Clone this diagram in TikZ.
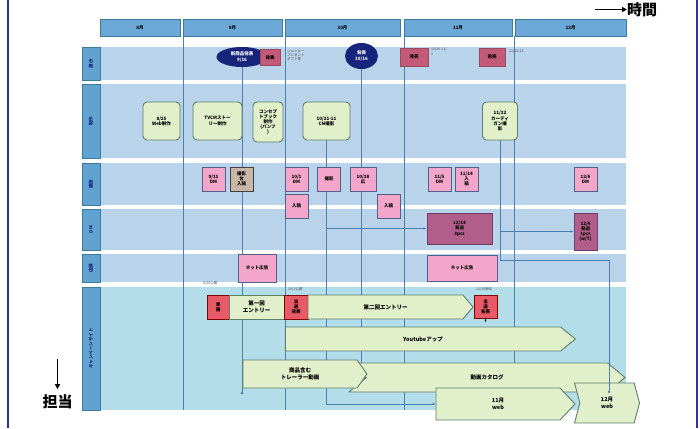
\documentclass[tikz,border=0pt]{standalone}
\usepackage{fontspec}
\setmainfont{Noto Sans CJK JP}
\usetikzlibrary{shapes.geometric,shapes.symbols,arrows.meta}
\pgfdeclarelayer{lanes}
\pgfdeclarelayer{wires}
\pgfsetlayers{lanes,wires,main}
\definecolor{lanebg}{HTML}{B9D3EA}
\definecolor{sitebg}{HTML}{B3DEE9}
\definecolor{tabbg}{HTML}{62A2D0}
\definecolor{tabln}{HTML}{3C7C96}
\definecolor{monbg}{HTML}{6CA8D8}
\definecolor{plangr}{HTML}{E1EFCB}
\definecolor{planln}{HTML}{5E7E6E}
\definecolor{rose}{HTML}{C25A78}
\definecolor{pinkbg}{HTML}{F4A6CA}
\definecolor{pinkln}{HTML}{50608A}
\definecolor{tanbg}{HTML}{C8B6A6}
\definecolor{dmbg}{HTML}{B25E8A}
\definecolor{dmln}{HTML}{6E3E66}
\definecolor{redbg}{HTML}{E85A66}
\definecolor{navy}{HTML}{16247A}
\definecolor{wireblue}{HTML}{4A7FB0}
\definecolor{framebl}{HTML}{2A34A8}
\begin{document}
\begin{tikzpicture}[x=1pt, y=-1pt,
  every node/.style={inner sep=0pt, align=center, font=\fontsize{4.5}{5.2}\selectfont\bfseries},
  month/.style={draw=tabln, fill=monbg, line width=0.8pt, minimum height=17},
  tab/.style={fill=tabbg, draw=tabln, line width=0.5pt},
  plan/.style={draw=planln, fill=plangr, rounded corners=4pt, line width=0.9pt},
  launch/.style={draw=rose!80!black, fill=rose, minimum width=20, minimum height=16},
  evt/.style={ellipse, fill=navy, text=white},
  ad/.style={draw=pinkln, fill=pinkbg, line width=0.9pt, minimum width=23, minimum height=24},
  dm/.style={draw=dmln, fill=dmbg, line width=0.9pt},
  hot/.style={draw=red!50!black, fill=redbg, minimum height=24, line width=0.6pt},
  flow/.style={signal, signal to=east, draw=planln, fill=plangr, line width=0.9pt,
    font=\fontsize{5.5}{6.5}\selectfont\bfseries},
  note/.style={anchor=north west, align=left, text=black!70, font=\fontsize{3.5}{4.2}\selectfont},
  wire/.style={draw=wireblue, line width=0.5pt},
]
  \useasboundingbox (0,0) rectangle (700,428);
  % Outer frame
  \draw[framebl, line width=1.6pt] (8,0) -- (8,428);
  \draw[framebl, line width=1.6pt] (697,0) -- (697,428);

  % Lanes
  \begin{pgfonlayer}{lanes}
  \foreach \a/\b/\c in {47/80/lanebg,84/158/lanebg,163/205/lanebg,209/250/lanebg,254/282/lanebg,287/410/sitebg}
    \fill[\c] (100,\a) rectangle (626,\b);
  \foreach \a/\b in {47/80,84/158,163/205,209/250,254/282,287/410}
    \draw[tab] (82,\a) rectangle (100,\b);
  \end{pgfonlayer}
  \foreach \a/\b/\lbl [count=\i] in {47/80/展示,84/158/制作,163/205/雑誌,209/250/DM,254/282/店頭,287/410/キャンペーンサイト}
    \node[rotate=90, text=navy] (tab\i) at (91,{(\a+\b)/2}) {\lbl};

  % Month headers
  \foreach \l/\r/\m [count=\i] in {100/180/8月,183/282/9月,285/400/10月,404/512/11月,515/626/12月}
    \node[month, minimum width=\r-\l] (mon\i) at ({(\l+\r)/2},27.5) {\m};

  % Axis arrows
  \node[anchor=west, font=\fontsize{15}{15}\selectfont\bfseries] (timeLbl) at (627,9.5) {時間};
  \coordinate (tstart) at (595,9.5);
  \draw[line width=1.3pt, -{Triangle[length=5pt,width=5pt]}] (tstart) -- (timeLbl.west);
  \node[font=\fontsize{15}{15}\selectfont\bfseries] (roleLbl) at (57.5,401.5) {担当};
  \coordinate (rstart) at (57.5,359);
  \draw[line width=1.3pt, -{Triangle[length=5pt,width=5pt]}, shorten >=5pt] (rstart) -- (roleLbl.north);

  % Row 1: announcements
  \node[evt, minimum width=51, minimum height=20] (ev1) at (242,57) {新商品発表\\9/16};
  \node[launch] (ln1) at (270,57.5) {発表};
  \node[note] (nt1) at (287,49) {ショッピー\\プレゼント\\ギフト等};
  \node[evt, minimum width=33, minimum height=26] (ev2) at (361.5,56) {発表\\10/16};
  \node[launch, minimum width=28, minimum height=18] (ln2) at (414,57) {発売};
  \node[note] (nt2) at (431,48) {10/26-11/\\1};
  \node[launch, minimum width=26, minimum height=18] (ln3) at (492,57) {発売};
  \node[note] (nt3) at (509,50) {11/22-23};

  % Row 2: production
  \node[plan, minimum width=37, minimum height=38] (pl1) at (161.5,121) {8/25\\Web制作};
  \node[plan, minimum width=49, minimum height=38] (pl2) at (217.5,121) {TVCMストー\\リー制作};
  \node[plan, minimum width=30, minimum height=40] (pl3) at (268,122) {コンセプ\\トブック\\制作\\(パンフ\\)};
  \node[plan, minimum width=47, minimum height=38] (pl4) at (326.5,121) {10/21-11\\CM撮影};
  \node[plan, minimum width=35, minimum height=38] (pl5) at (500,121) {11/22\\カーディ\\ガン撮\\影};

  % Row 3: magazines
  \node[ad] (ad1) at (213.5,179) {9/11\\DM};
  \node[ad, fill=tanbg, draw=black!75] (ad2) at (241.5,179) {撮影\\台\\入稿};
  \node[ad] (ad3) at (296.5,179) {10/1\\DM};
  \node[ad] (ad4) at (329,179) {撮影};
  \node[ad, minimum width=26] (ad5) at (363,179) {10/28\\広};
  \node[ad] (ad6) at (439.5,179) {11/5\\DM};
  \node[ad] (ad7) at (466.5,179) {11/14\\入\\稿};
  \node[ad] (ad8) at (585.5,179) {12/6\\DM};
  \node[ad] (ad9) at (296.5,206) {入稿};
  \node[ad] (ad10) at (388.5,206) {入稿};

  % Row 4: DM
  \node[dm, minimum width=65, minimum height=31] (dm1) at (459.5,228.5) {11/14\\発送\\3pcs};
  \node[dm, minimum width=23, minimum height=37] (dm2) at (585.5,231.5) {12/4\\発送\\1pcs\\(w/T)};

  % Row 5: shop
  \node[ad, minimum width=38, minimum height=28] (sh1) at (257,268) {ネット広告};
  \node[ad, minimum width=70, minimum height=26] (sh2) at (462,268) {ネット広告};

  % Row 6: campaign site
  \node[note] (ntA) at (203,281.5) {8/25公開};
  \node[note] (ntB) at (288,287) {10/1公開};
  \node[note] (ntC) at (476,287) {11/30締切};
  \node[hot, minimum width=22] (ht1) at (218,307) {準\\備};
  \node[draw=planln, fill=plangr, line width=0.9pt, minimum width=55, minimum height=24,
    font=\fontsize{5.5}{6.5}\selectfont\bfseries] (en1) at (256.5,307) {第一回\\エントリー};
  \node[hot, minimum width=24] (ht2) at (296,307) {当\\選\\発表};
  \node[flow, minimum width=165, minimum height=24, signal pointer angle=100] (en2) at (385.5,307) {第二回エントリー};
  \node[hot, minimum width=23, minimum height=23] (ht3) at (485.5,306.5) {当\\選\\発表};
  \node[flow, minimum width=290, minimum height=24, signal pointer angle=78] (yt) at (423,339) {Youtubeアップ};
  \node[flow, signal from=west, minimum width=276, minimum height=29, signal pointer angle=80] (cat) at (487,377.5) {動画カタログ};
  \node[flow, minimum width=124, minimum height=28, signal pointer angle=110] (trl) at (300,374) {商品含む\\トレーラー動画};
  \node[flow, minimum width=139, minimum height=32, signal pointer angle=94] (w11) at (498,404) {11月\\web};
  \node[flow, signal from=west, minimum width=65, minimum height=40, signal pointer angle=150] (w12) at (607,403) {12月\\web};

  % Connectors and month lines
  \coordinate (lowrow) at (0,393);
  \coordinate (bend) at (609,260);
  \coordinate (w12in) at (609,394);
  \draw[-{Latex[length=2pt,width=2pt]}] (ht3.south) -- ++(0,4);
  \begin{pgfonlayer}{wires}
  \foreach \x in {183,285,404,514}
    \draw[wire] (\x,36) -- (\x,410);
  \draw[wire] (ev1.south) -- (ev1.south |- lowrow);
  \fill[wireblue] (ev1.south |- lowrow) circle (1.5pt);
  \draw[wire] (ev2.south) -- (ev2.south |- cat.north);
  \draw[wire, -{Latex[length=3pt,width=2.5pt]}] (pl4.south) |- (dm1.west);
  \draw[wire, -{Latex[length=3pt,width=2.5pt]}] (pl4.south) |- (w11.west);
  \draw[wire, -{Latex[length=3pt,width=2.5pt]}] (pl5.south) |- (dm2.west);
  \end{pgfonlayer}
  \draw[wire, -{Latex[length=3pt,width=2.5pt]}] (pl5.south) |- (bend) -- (w12in);
\end{tikzpicture}
\end{document}
